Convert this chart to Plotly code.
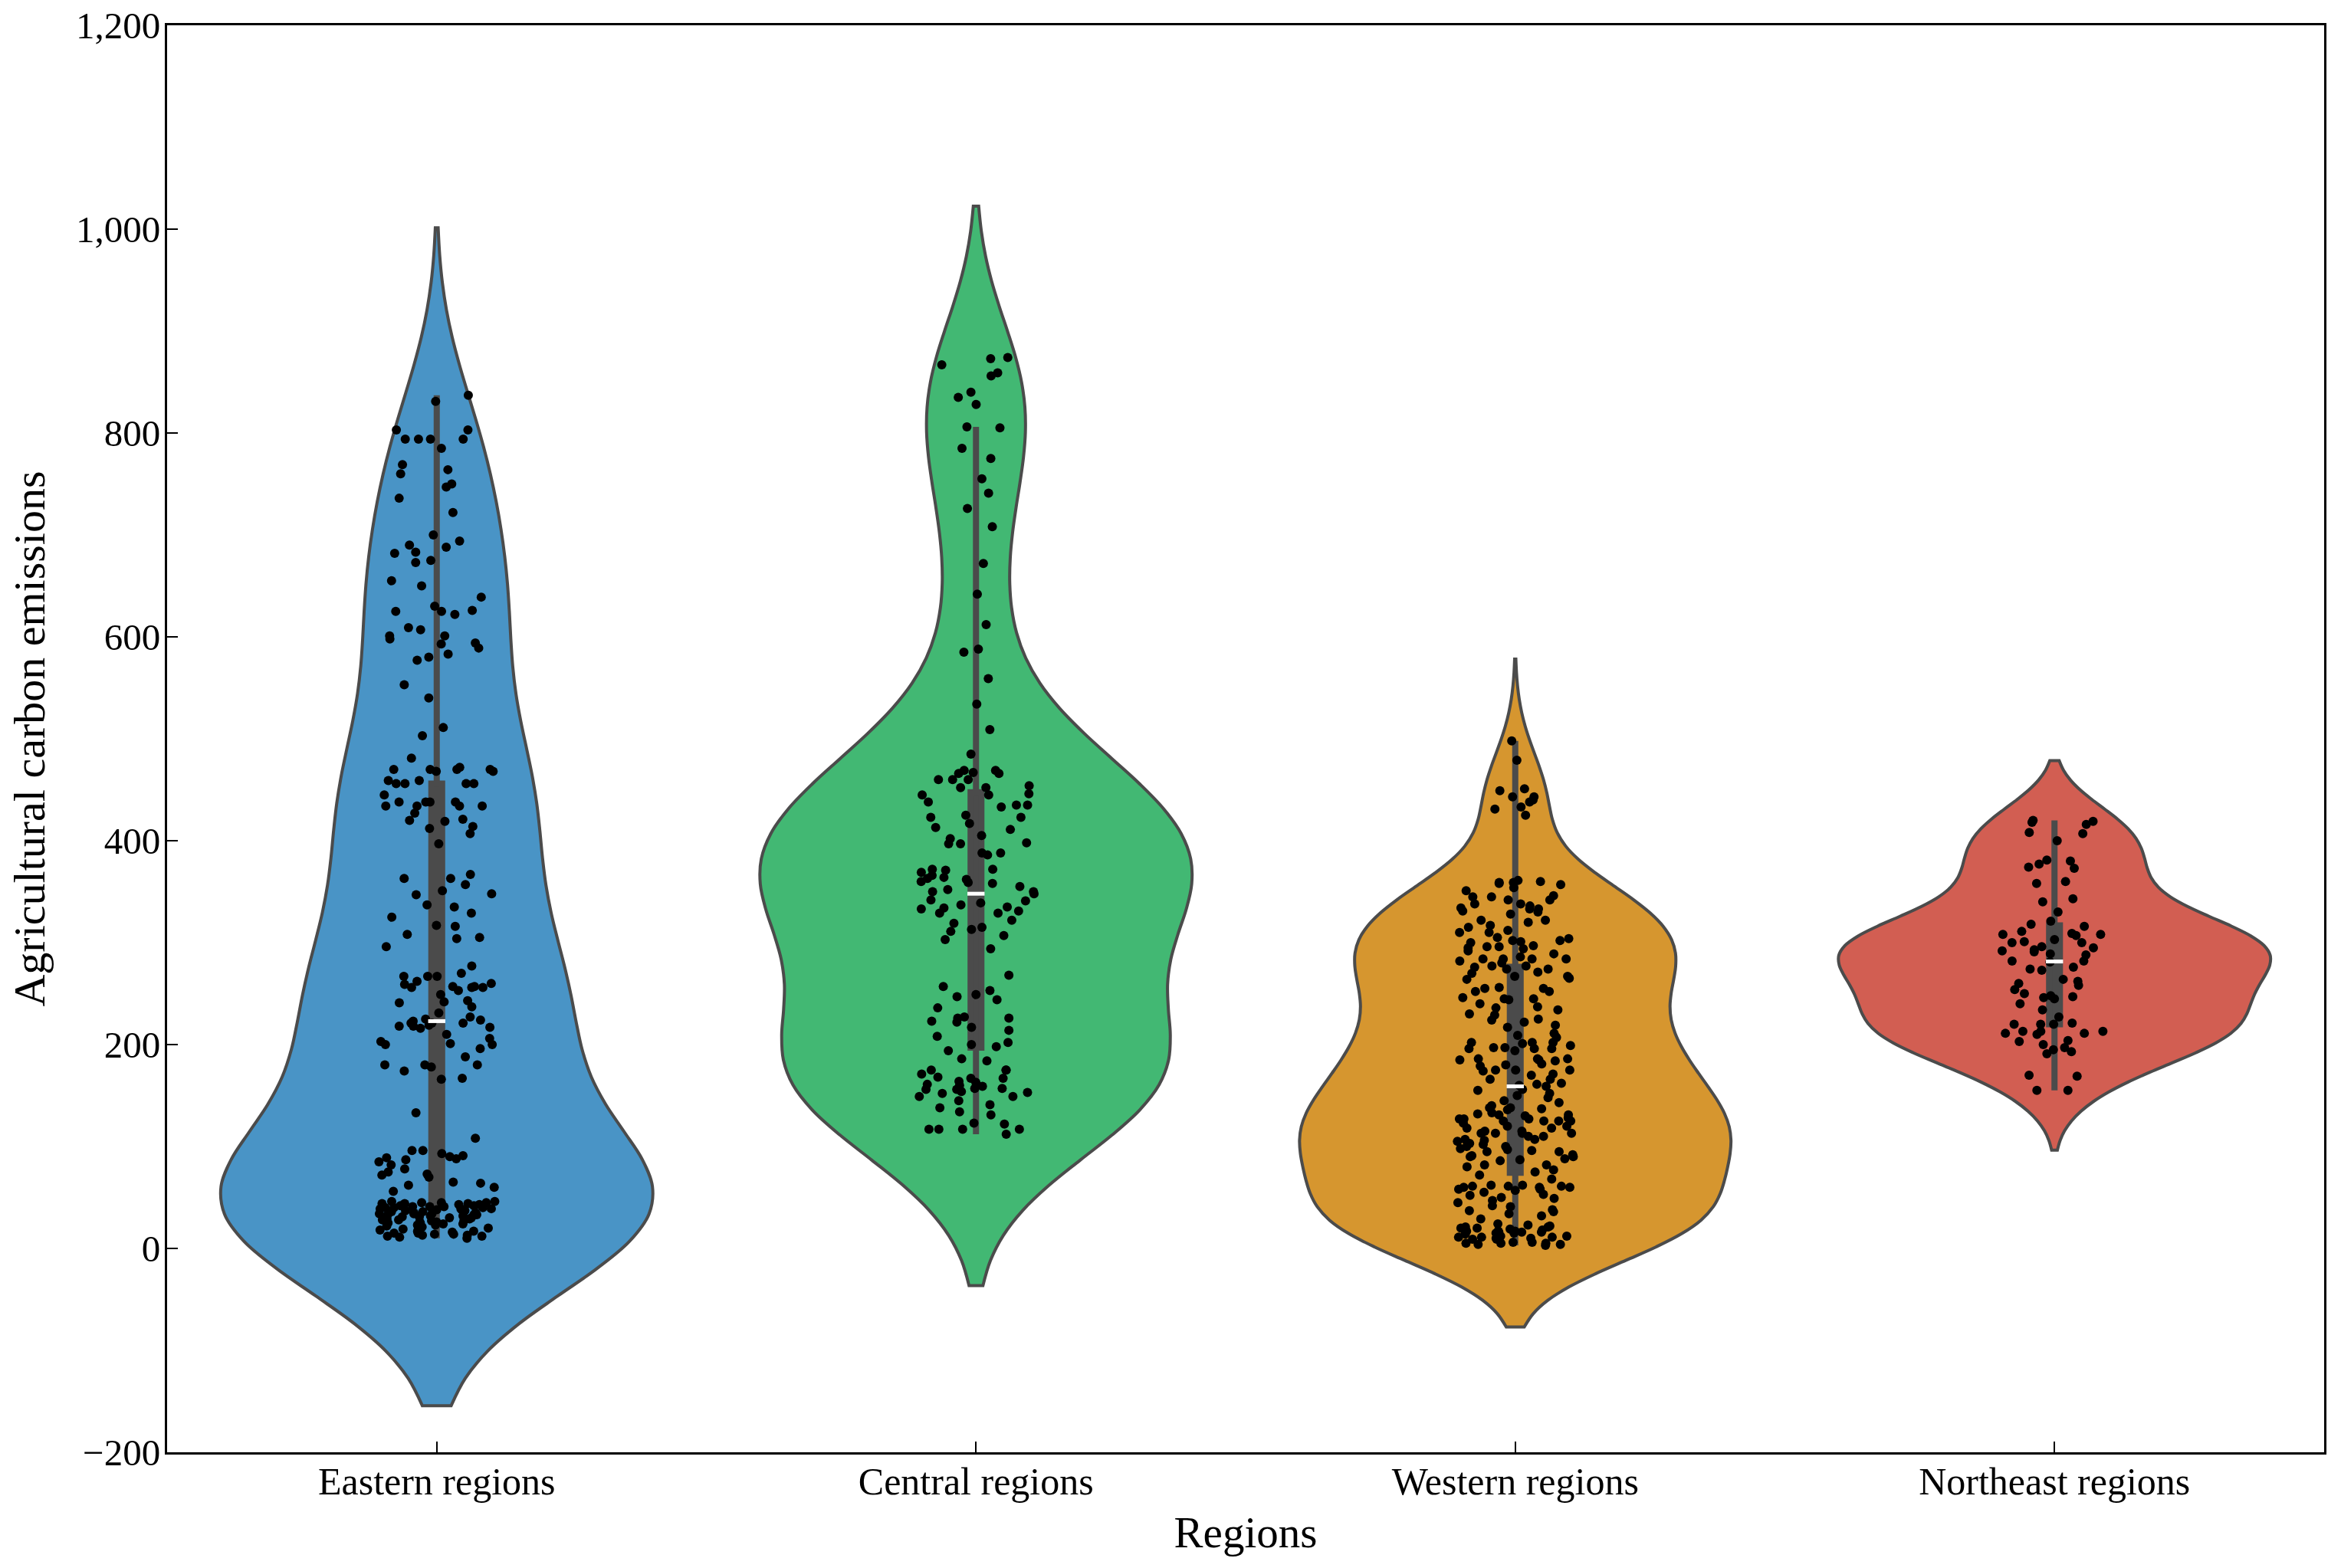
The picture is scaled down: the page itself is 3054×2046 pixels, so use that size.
import numpy as np
import plotly.graph_objects as go

categories = ["Eastern regions", "Central regions", "Western regions", "Northeast regions"]
colors = ["#4994C6", "#42B873", "#D6962F", "#D25E52"]
edge_gray = "#4B4B4B"

eastern = [837, 831, 803, 803, 794, 794, 794, 794, 785, 769, 764, 760, 750, 747, 736, 722,
           700, 694, 690, 688, 683, 682, 675, 673, 655, 650, 639, 630, 626, 625, 625, 622,
           609, 607, 601, 601, 598, 594, 593, 589, 583, 580, 577, 553, 540, 511, 503, 481,
           472, 470, 470, 470, 470, 468, 468, 459, 459, 456, 456, 456, 456, 445, 438, 438,
           438, 438, 434, 434, 434, 434,
           414, 420, 421, 412, 419, 427, 407, 397, 363, 367, 363, 357, 351, 347, 348, 335,
           337, 329, 325, 316, 317, 305, 304, 308, 296, 277, 270, 259, 256, 260, 262, 256,
           249, 267, 257, 256, 267, 267, 257, 253, 243, 237, 241, 242, 231, 223, 219, 221,
           225, 224, 217, 227, 218, 221, 221, 218, 216, 210, 200, 201, 206, 200, 203, 196,
           188, 180, 180, 174, 178, 180, 167, 166, 133, 108, 89, 91, 93, 85, 87, 88, 96, 96,
           90, 78, 82, 72, 70, 75, 73, 62, 64, 65, 60, 56,
           46, 44, 45, 43, 44, 46, 45, 43, 44, 45,
           42, 38, 41, 36, 40, 39, 37, 42, 35, 40, 38, 41, 36, 39, 37, 40, 41, 39,
           34, 31, 33, 29, 35, 32, 30, 34, 28, 33, 31, 29, 32, 30, 34, 33,
           27, 24, 26, 22, 25, 20, 28, 23, 26, 21, 24, 27, 25, 23,
           19, 14, 17, 12, 16, 10, 13, 18, 15, 11, 13, 17, 12, 15, 14]

central = [874, 873, 867, 859, 856, 840, 835, 828, 806, 805, 785, 775, 755, 741, 726, 708,
           672, 642, 612, 588, 585, 559, 534, 509, 485,
           466, 469, 466, 469, 467, 460, 460, 460, 452, 452, 454, 445, 446, 445, 433, 435,
           435, 438, 425, 423, 423, 417, 413, 411, 405, 402, 397, 397, 398, 388, 388, 386,
           372, 369, 372, 371, 362, 363, 364, 366, 359, 360, 358, 350, 355, 352, 348, 350,
           342, 339, 341, 337, 333, 335, 329, 334, 331, 329, 322, 313, 315, 319, 311, 307,
           303, 294, 268, 257, 253, 249, 247, 244, 236, 226, 226, 227, 222, 223, 217, 214,
           208, 202, 200, 198, 194, 186, 184, 175, 171, 175, 175, 164, 163, 167, 168, 167,
           157, 159, 156, 156, 161, 160, 153, 149, 157, 152, 154, 149, 145, 141, 138, 131,
           134, 123, 117, 122, 117, 112, 117, 117]

western = [498, 479, 449, 443, 438, 433, 451, 425, 440, 443, 431,
           359, 360, 358, 359, 361, 357,
           354, 351, 345, 346, 342, 345, 342, 333, 328, 336, 338, 334, 333, 338, 330, 331,
           317, 322, 312, 315, 322, 320, 310, 302, 310, 305, 302, 304, 297, 300, 301,
           296, 296, 294, 289, 282, 284, 277, 274, 267, 295, 292, 284, 271, 284, 280, 286,
           284, 277, 276, 274, 270, 264, 265, 267, 255, 255, 252, 252, 256,
           246, 245, 245, 244, 240, 237, 236, 234, 229, 230, 225, 224, 222, 219, 217, 211,
           207, 209, 202, 202, 194, 196, 196, 197, 201, 199, 197, 196, 202, 186, 186, 181,
           175, 174, 185, 179, 175, 170, 180, 171, 184, 186, 185, 175, 166, 166, 162, 159,
           155, 152, 161, 156, 160, 150, 145, 143, 148, 140, 138, 138, 133, 127, 132, 136,
           137, 131, 127, 123, 125, 125, 127, 131, 125, 130, 128, 120, 118, 115, 107, 103,
           92, 125, 120, 113, 106, 110, 105, 113, 118, 113, 110, 115, 107, 113, 102, 95,
           100, 90, 87, 98, 95, 96, 86, 77, 82, 91, 90, 82, 75, 100, 97, 88, 80, 72, 68,
           58, 49, 62, 62, 61, 53, 61, 60, 61, 57, 60, 60, 47, 42, 41, 37, 38, 32, 34, 36,
           29, 58, 55, 52, 50, 45,
           22, 21, 23, 20, 19, 21, 24, 20,
           17, 16, 15, 17, 18, 16, 14, 15, 16, 17,
           11, 10, 12, 9, 11, 10, 12, 11, 9,
           5, 4, 6, 3, 5, 4, 6, 5]

northeast = [419, 420, 418, 416, 408, 407, 400, 381, 377, 380, 374, 373, 360, 358, 343, 340,
             330, 321, 316, 318, 311, 308, 308, 300, 307, 303, 300, 309, 301, 292, 296, 289,
             295, 291, 288, 293, 282, 282, 281, 274, 276, 273, 264, 262, 260, 258, 254, 247,
             248, 245, 246, 250, 240, 234, 227, 220, 220, 220, 221, 213, 213, 210, 211, 211,
             213, 204, 203, 200, 197, 195, 193, 191, 170, 169, 155, 155]

series = [eastern, central, western, northeast]

y_ticks = [-200, 0, 200, 400, 600, 800, 1000, 1200]

FONT = "Liberation Serif, Times New Roman, serif"

fig = go.Figure()
for cat, vals, col in zip(categories, series, colors):
    arr = np.asarray(vals, dtype=float)
    bw = arr.std(ddof=1) * len(arr) ** (-0.2)   # Scott's rule, as in seaborn
    fig.add_trace(go.Violin(
        x=[cat] * len(vals), y=vals, name=cat,
        width=0.8, bandwidth=bw, spanmode="soft", scalemode="width",
        fillcolor=col, opacity=1,
        line=dict(color=edge_gray, width=4),
        box=dict(visible=True, width=0.025, fillcolor=edge_gray,
                 line=dict(color=edge_gray, width=8)),
        meanline=dict(visible=False),
        points="all", pointpos=0, jitter=0.27,
        marker=dict(color="black", size=12, line=dict(width=0)),
        showlegend=False, hoverinfo="skip",
    ))

medians = [float(np.median(v)) for v in series]
fig.add_trace(go.Scatter(
    x=categories, y=medians, mode="markers",
    marker=dict(symbol="line-ew", size=16, line=dict(color="white", width=5)),
    showlegend=False, hoverinfo="skip",
))

fig.update_layout(
    width=3054, height=2046,
    margin=dict(l=218, r=22, t=33, b=151, autoexpand=False),
    paper_bgcolor="white", plot_bgcolor="white",
    violinmode="overlay", violingap=0,
    font=dict(family=FONT, color="black", size=50),
)
fig.update_xaxes(
    type="category", categoryorder="array", categoryarray=categories,
    range=[-0.5, 3.5], automargin=False,
    showline=True, mirror=True, linecolor="black", linewidth=3,
    ticks="inside", ticklen=14, tickwidth=2, tickcolor="black",
    showgrid=False, zeroline=False, ticklabelstandoff=-8,
    tickfont=dict(family=FONT, size=50, color="black"),
    title=dict(text="Regions", font=dict(family=FONT, size=57, color="black"), standoff=20),
)
fig.update_yaxes(
    range=[-200, 1200], automargin=False,
    tickmode="array", tickvals=y_ticks, tickformat=",d",
    showline=True, mirror=True, linecolor="black", linewidth=3,
    ticks="inside", ticklen=14, tickwidth=2, tickcolor="black",
    showgrid=False, zeroline=False, ticklabelstandoff=-4,
    tickfont=dict(family=FONT, size=49, color="black"),
    title=dict(text="Agricultural carbon emissions",
               font=dict(family=FONT, size=58, color="black"), standoff=22),
)

fig.write_html("out.html", config={"displayModeBar": False},
               post_script="document.body.style.margin='0';document.body.style.padding='0';")
